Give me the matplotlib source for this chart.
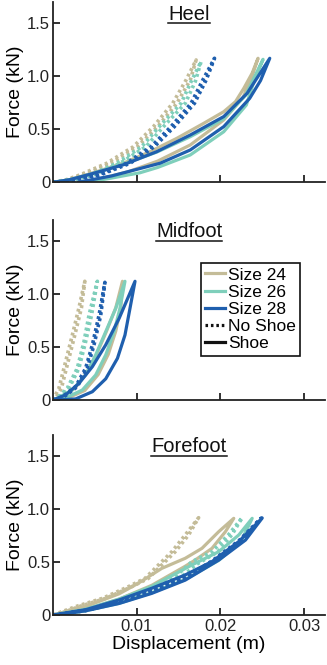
import matplotlib
matplotlib.use("Agg")
import matplotlib.pyplot as plt
from matplotlib.lines import Line2D

plt.rcParams['font.family'] = ['Liberation Sans', 'DejaVu Sans']

# ---------------- data (displacement in m, force in kN) ----------------
panels = ["Heel", "Midfoot", "Forefoot"]
sizes = ["Size 24", "Size 26", "Size 28"]
colors = ["#c4bc98", "#7fcfbb", "#1f5fae"]

# Heel - no shoe (loop: loading then unloading)
heel_24_ns_x = [0, 0.0016, 0.0032, 0.0064, 0.0096, 0.0120, 0.0143, 0.0159, 0.0171,
                0.0164, 0.0148, 0.0125, 0.0101, 0.0069, 0.0037, 0.0020, 0.0004]
heel_24_ns_y = [0, 0.025, 0.069, 0.179, 0.336, 0.525, 0.745, 0.965, 1.154,
                0.965, 0.745, 0.525, 0.336, 0.179, 0.069, 0.025, 0]
heel_26_ns_x = [0, 0.0022, 0.0044, 0.0076, 0.0106, 0.0127, 0.0153, 0.0165, 0.0177,
                0.0170, 0.0158, 0.0132, 0.0111, 0.0080, 0.0048, 0.0026, 0.0005]
heel_26_ns_y = [0, 0.025, 0.069, 0.179, 0.336, 0.525, 0.745, 0.950, 1.140,
                0.950, 0.745, 0.525, 0.336, 0.179, 0.069, 0.025, 0]
heel_28_ns_x = [0, 0.0012, 0.0052, 0.0088, 0.0117, 0.0141, 0.0165, 0.0179, 0.0193,
                0.0183, 0.0169, 0.0145, 0.0121, 0.0092, 0.0056, 0.0016]
heel_28_ns_y = [0, 0.006, 0.069, 0.179, 0.336, 0.525, 0.745, 0.965, 1.170,
                0.965, 0.745, 0.525, 0.336, 0.179, 0.069, 0]
# Heel - shoe
heel_24_sh_x = [0.0005, 0.0020, 0.0044, 0.0084, 0.0116, 0.0148, 0.0180, 0.0204, 0.0218, 0.0228, 0.0238, 0.0245,
                0.0236, 0.0227, 0.0204, 0.0164, 0.0125, 0.0090, 0.0060, 0.0035]
heel_24_sh_y = [0, 0.025, 0.080, 0.180, 0.289, 0.415, 0.556, 0.666, 0.760, 0.887, 1.030, 1.170,
                0.960, 0.800, 0.588, 0.352, 0.200, 0.100, 0.040, 0]
heel_26_sh_x = [0, 0.0020, 0.0044, 0.0084, 0.0124, 0.0164, 0.0204, 0.0230, 0.0251,
                0.0240, 0.0231, 0.0204, 0.0164, 0.0125, 0.0104, 0.0070, 0.0040]
heel_26_sh_y = [0, 0.025, 0.075, 0.170, 0.285, 0.430, 0.600, 0.820, 1.160,
                0.950, 0.729, 0.477, 0.258, 0.140, 0.090, 0.040, 0]
heel_28_sh_x = [0, 0.0020, 0.0044, 0.0084, 0.0124, 0.0164, 0.0204, 0.0232, 0.0259,
                0.0248, 0.0235, 0.0204, 0.0164, 0.0128, 0.0104, 0.0070, 0.0030]
heel_28_sh_y = [0, 0.025, 0.075, 0.165, 0.289, 0.446, 0.620, 0.840, 1.170,
                0.960, 0.792, 0.525, 0.305, 0.180, 0.130, 0.060, 0]

# Midfoot - no shoe
mid_24_ns_x = [0, 0.0007, 0.0015, 0.0023, 0.0031, 0.0038,
               0.0034, 0.0026, 0.0018, 0.0010, 0.0002]
mid_24_ns_y = [0, 0.11, 0.36, 0.61, 0.87, 1.12,
               0.87, 0.61, 0.36, 0.11, 0]
mid_26_ns_x = [0, 0.0005, 0.0017, 0.0029, 0.0037, 0.0043, 0.0053,
               0.0046, 0.0039, 0.0031, 0.0019, 0.0007, 0.0002]
mid_26_ns_y = [0, 0.02, 0.11, 0.30, 0.55, 0.80, 1.12,
               0.80, 0.55, 0.30, 0.11, 0.02, 0]
mid_28_ns_x = [0, 0.0011, 0.0027, 0.0039, 0.0047, 0.0055, 0.0062,
               0.0057, 0.0049, 0.0041, 0.0029, 0.0013, 0.0002]
mid_28_ns_y = [0, 0.03, 0.126, 0.30, 0.52, 0.80, 1.11,
               0.80, 0.52, 0.30, 0.126, 0.03, 0]
# Midfoot - shoe
mid_24_sh_x = [0, 0.0010, 0.0026, 0.0040, 0.0052, 0.0064, 0.0075, 0.0083,
               0.0081, 0.0075, 0.0066, 0.0054, 0.0038, 0.0018, 0.0003]
mid_24_sh_y = [0, 0.03, 0.11, 0.25, 0.43, 0.65, 0.87, 1.12,
               0.87, 0.65, 0.43, 0.24, 0.09, 0.02, 0]
mid_26_sh_x = [0, 0.0006, 0.0023, 0.0039, 0.0051, 0.0063, 0.0075, 0.0086,
               0.0080, 0.0073, 0.0063, 0.0051, 0.0035, 0.0015, 0.0003]
mid_26_sh_y = [0, 0.02, 0.094, 0.236, 0.425, 0.645, 0.865, 1.12,
               0.865, 0.645, 0.425, 0.236, 0.094, 0.02, 0]
mid_28_sh_x = [0, 0.0015, 0.0031, 0.0047, 0.0063, 0.0079, 0.0098,
               0.0092, 0.0086, 0.0077, 0.0063, 0.0047, 0.0027, 0.0005]
mid_28_sh_y = [0, 0.047, 0.157, 0.314, 0.520, 0.770, 1.12,
               0.865, 0.613, 0.393, 0.200, 0.078, 0.010, 0]

# Forefoot - no shoe
fore_24_ns_x = [0, 0.0027, 0.0059, 0.0090, 0.0110, 0.0126, 0.0142, 0.0158, 0.0174,
                0.0162, 0.0146, 0.0130, 0.0114, 0.0094, 0.0063, 0.0031, 0.0004]
fore_24_ns_y = [0, 0.079, 0.157, 0.267, 0.346, 0.472, 0.597, 0.755, 0.918,
                0.755, 0.597, 0.472, 0.346, 0.267, 0.157, 0.079, 0]
fore_26_ns_x = [0, 0.0039, 0.0079, 0.0118, 0.0150, 0.0166, 0.0190, 0.0210, 0.0226,
                0.0214, 0.0197, 0.0172, 0.0155, 0.0121, 0.0082, 0.0041, 0.0004]
fore_26_ns_y = [0, 0.050, 0.135, 0.250, 0.390, 0.503, 0.597, 0.760, 0.918,
                0.760, 0.597, 0.480, 0.370, 0.235, 0.125, 0.045, 0]
fore_28_ns_x = [0, 0.0039, 0.0079, 0.0118, 0.0158, 0.0190, 0.0222, 0.0249,
                0.0224, 0.0193, 0.0160, 0.0120, 0.0081, 0.0041, 0.0004]
fore_28_ns_y = [0, 0.045, 0.125, 0.228, 0.353, 0.510, 0.700, 0.915,
                0.700, 0.510, 0.353, 0.228, 0.125, 0.045, 0]
# Forefoot - shoe
fore_24_sh_x = [0, 0.0039, 0.0079, 0.0102, 0.0130, 0.0158, 0.0178, 0.0198, 0.0216,
                0.0206, 0.0190, 0.0170, 0.0158, 0.0118, 0.0079, 0.0039, 0.0005]
fore_24_sh_y = [0, 0.080, 0.200, 0.300, 0.440, 0.535, 0.629, 0.786, 0.912,
                0.786, 0.629, 0.519, 0.460, 0.280, 0.150, 0.050, 0]
fore_26_sh_x = [0, 0.0039, 0.0079, 0.0118, 0.0166, 0.0198, 0.0222, 0.0238,
                0.0225, 0.0198, 0.0158, 0.0118, 0.0079, 0.0039, 0.0005]
fore_26_sh_y = [0, 0.055, 0.150, 0.270, 0.472, 0.597, 0.755, 0.912,
                0.700, 0.515, 0.335, 0.210, 0.110, 0.040, 0]
fore_28_sh_x = [0, 0.0039, 0.0079, 0.0118, 0.0158, 0.0190, 0.0222, 0.0250,
                0.0230, 0.0198, 0.0158, 0.0118, 0.0079, 0.0039, 0.0005]
fore_28_sh_y = [0, 0.050, 0.142, 0.252, 0.378, 0.504, 0.693, 0.915,
                0.707, 0.518, 0.329, 0.204, 0.109, 0.040, 0]

y_ticks = [0, 0.5, 1.0, 1.5]
y_ticklabels = ["0", "0.5", "1.0", "1.5"]
x_ticks = [0.01, 0.02, 0.03]
x_ticklabels = ["0.01", "0.02", "0.03"]

noshoe = {
    "Heel": [(heel_24_ns_x, heel_24_ns_y), (heel_26_ns_x, heel_26_ns_y), (heel_28_ns_x, heel_28_ns_y)],
    "Midfoot": [(mid_24_ns_x, mid_24_ns_y), (mid_26_ns_x, mid_26_ns_y), (mid_28_ns_x, mid_28_ns_y)],
    "Forefoot": [(fore_24_ns_x, fore_24_ns_y), (fore_26_ns_x, fore_26_ns_y), (fore_28_ns_x, fore_28_ns_y)],
}
shoe = {
    "Heel": [(heel_24_sh_x, heel_24_sh_y), (heel_26_sh_x, heel_26_sh_y), (heel_28_sh_x, heel_28_sh_y)],
    "Midfoot": [(mid_24_sh_x, mid_24_sh_y), (mid_26_sh_x, mid_26_sh_y), (mid_28_sh_x, mid_28_sh_y)],
    "Forefoot": [(fore_24_sh_x, fore_24_sh_y), (fore_26_sh_x, fore_26_sh_y), (fore_28_sh_x, fore_28_sh_y)],
}

# ---------------- figure ----------------
W, H = 327, 665
fig = plt.figure(figsize=(W / 100, H / 100), dpi=100)

left = 53 / W
width = (325 - 53) / W
ax_h = 180.2 / H
bottoms = [(H - 182.3) / H, (H - 400) / H, (H - 615) / H]

DOT = (0, (0.8, 0.9))
axes = []
for name, b in zip(panels, bottoms):
    ax = fig.add_axes([left, b, width, ax_h])
    axes.append(ax)
    for i, c in enumerate(colors):
        xs, ys = noshoe[name][i]
        ax.plot(xs, ys, color=c, lw=2.6, linestyle=DOT,
                dash_capstyle='butt', dash_joinstyle='round')
        xs, ys = shoe[name][i]
        ax.plot(xs, ys, color=c, lw=2.3, solid_joinstyle='round',
                solid_capstyle='round')
    ax.set_xlim(0, 0.0325)
    ax.set_ylim(0, 1.7)
    ax.spines['top'].set_visible(False)
    ax.spines['right'].set_visible(False)
    for s in ('left', 'bottom'):
        ax.spines[s].set_linewidth(1.3)
        ax.spines[s].set_color('#222222')
    ax.set_yticks(y_ticks)
    ax.set_yticklabels(y_ticklabels)
    ax.set_xticks(x_ticks)
    ax.tick_params(direction='in', length=5, width=1.3, labelsize=12,
                   colors='#222222', pad=3)
    ax.tick_params(axis='y', pad=2)
    ax.set_ylabel("Force (kN)", fontsize=14, labelpad=2)
    ax.text(0.5, 0.933, name, transform=ax.transAxes, ha='center',
            va='center', fontsize=14.5, color='#111111')
    if name != "Forefoot":
        ax.set_xticklabels([])
    else:
        ax.set_xticklabels(x_ticklabels)
        ax.set_xlabel("Displacement (m)", fontsize=14, labelpad=1)

# legend in midfoot panel
handles = [Line2D([], [], color=c, lw=2.3) for c in colors]
handles += [Line2D([], [], color='#111111', lw=2.3, linestyle=DOT),
            Line2D([], [], color='#111111', lw=2.3)]
labels = sizes + ["No Shoe", "Shoe"]
leg = axes[1].legend(handles, labels, loc='upper left',
                     bbox_to_anchor=(0.544, 0.76), borderaxespad=0,
                     fontsize=12.5, handlelength=1.15, handletextpad=0.15,
                     labelspacing=0.12, borderpad=0.25, fancybox=False,
                     framealpha=1, edgecolor='#111111')
leg.get_frame().set_linewidth(1.2)

# underline titles
fig.canvas.draw()
renderer = fig.canvas.get_renderer()
for ax in axes:
    t = ax.texts[0]
    bb = t.get_window_extent(renderer).transformed(ax.transAxes.inverted())
    ax.plot([bb.x0, bb.x1], [bb.y0 + 0.002, bb.y0 + 0.002], transform=ax.transAxes,
            color='#111111', lw=1.1, clip_on=False)

fig.savefig("out.png", dpi=100)
